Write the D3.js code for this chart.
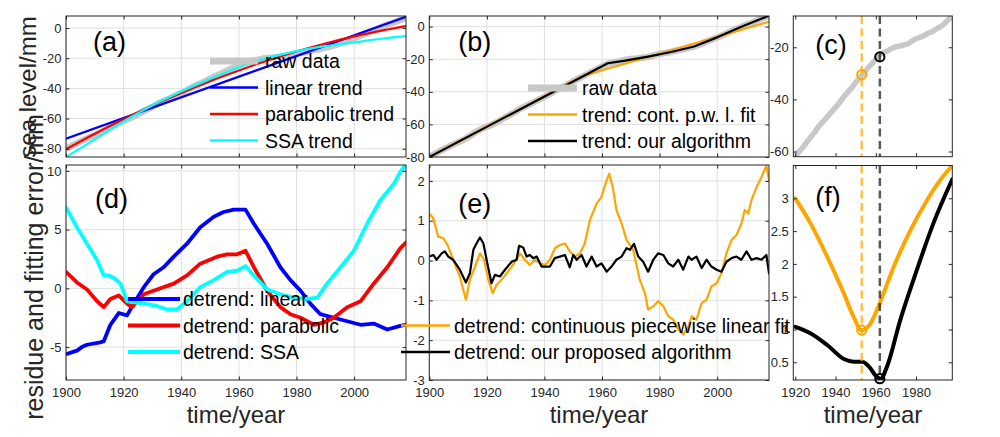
<!DOCTYPE html>
<html>
<head>
<meta charset="utf-8">
<script src="https://cdn.jsdelivr.net/npm/d3@7"></script>
<style>
  body { margin: 0; background: #fff; }
  svg { display: block; }
</style>
</head>
<body>
<svg id="chart"></svg>
<script>
// ---- data ----
const rawYears = d3.range(1900, 2019, 2);
const rawLevel = [-79.9, -78.1, -76.1, -74.3, -72.6, -70.9, -69.4, -67.3, -64.8, -62.8,
  -61.5, -60.0, -58.2, -56.1, -54.1, -52.2, -50.0, -48.4, -46.6, -44.8,
  -43.1, -41.2, -39.1, -37.3, -35.6, -33.5, -31.7, -30.0, -28.0, -26.4,
  -24.5, -22.8, -22.0, -21.3, -20.4, -19.8, -19.5, -19.1, -18.7, -17.6,
  -16.7, -16.2, -15.5, -14.6, -14.0, -13.0, -12.2, -11.0, -9.4, -8.1,
  -6.7, -5.2, -3.5, -1.9, -0.5, 1.1, 2.4, 3.9, 5.4, 6.4];

const linearYears = [1900, 2018];
const linearTrend = [-73.3, 7.5];
const trendYears = [1900, 1910, 1920, 1930, 1940, 1950, 1960, 1970, 1980, 1990, 2000, 2010, 2018];
const parabolicTrend = [-80.4, -70.1, -60.5, -51.4, -43.0, -35.2, -28.1, -21.5, -15.5, -10.2, -5.5, -1.5, 1.3];
const ssaTrend = [-85.5, -73.8, -62.0, -51.2, -42.0, -33.8, -26.0, -19.8, -15.3, -12.0, -9.5, -6.9, -5.3];

const pwlYears = [1900, 1953, 2018];
const pwlTrend = [-80, -30.5, 3];
const oursYears = [1900, 1962, 1968, 1976, 1984, 1992, 2000, 2008, 2018];
const oursTrend = [-80, -22.5, -20.9, -18.4, -15.6, -12.2, -6.6, -0.4, 6.7];

const detLinear = [[1900,-5.6],[1903.8,-5.3],[1905.5,-5.0],[1907.3,-4.8],[1911.9,-4.6],[1913.1,-4.5],[1915.4,-3.1],
  [1918.3,-2.1],[1921.2,-2.3],[1923.5,-1.3],[1927,0.1],[1930.4,1.2],[1933.9,1.8],[1937.4,2.7],[1942,3.8],
  [1946.6,5.2],[1951.3,6.1],[1954.7,6.5],[1958.2,6.7],[1962.3,6.7],[1965.2,5.5],[1969.8,3.8],[1974.4,1.8],
  [1977.9,0.7],[1981.4,-0.2],[1984.8,-1.3],[1988.3,-2.2],[1992.9,-2.5],[1997.6,-2.8],[2002.2,-3.1],
  [2006.8,-3.0],[2011.5,-3.5],[2016,-3.2],[2018,-3.1]];
const detParabolic = [[1900,1.4],[1903.8,0.5],[1907.3,-0.1],[1910.8,-1.1],[1913.1,-1.6],[1915.4,-0.9],
  [1918.3,-0.6],[1921.2,-1.3],[1922.9,-1.6],[1927,-0.5],[1931.6,-0.1],[1937.4,0.4],[1942,1.1],[1946.6,2.1],
  [1952.4,2.7],[1955.9,2.9],[1959.4,2.9],[1962.3,3.2],[1965.2,1.8],[1969.8,-0.2],[1974.4,-1.6],[1977.9,-2.2],
  [1981.4,-2.5],[1986,-3.1],[1989.5,-2.9],[1992.9,-2.5],[1997.6,-1.6],[2002.2,-1.1],[2006.8,0.4],
  [2011.5,1.8],[2016,3.4],[2018,3.9]];
const detSSA = [[1900,6.9],[1903.8,5.2],[1907.3,3.8],[1910.8,2.4],[1913.1,1.1],[1914.8,1.1],[1916.6,0.9],
  [1918.9,0.4],[1921.2,-1.1],[1927,-1.3],[1931.6,-1.5],[1935.1,-1.8],[1938.5,-1.8],[1942,-1.1],[1946.6,0.1],
  [1951.3,0.7],[1955.9,1.4],[1959.4,1.5],[1962.3,1.9],[1965.2,1.1],[1969.8,-0.1],[1974.4,-0.5],[1979,-0.8],
  [1983.7,-0.9],[1987.2,-0.8],[1990.6,0.4],[1995.3,1.8],[1999.9,3.2],[2004.5,5.5],[2009.1,7.5],
  [2013.8,8.9],[2016,9.9],[2018,10.6]];

const detPwl = [[1900,1.18],[1901.4,1.06],[1903.1,0.6],[1904.9,0.56],[1906.6,0.35],[1908.3,0.02],[1910.6,-0.4],
  [1912.7,-0.98],[1914.1,-0.48],[1915.9,-0.15],[1917.6,0.18],[1919,0.02],[1920.5,-0.48],[1922,-0.82],
  [1923.4,-0.61],[1925.1,-0.48],[1926.9,-0.32],[1928.6,-0.15],[1930.3,0.02],[1931.5,0.18],[1933.2,0.02],
  [1934.9,-0.11],[1936.7,0.02],[1938.4,-0.07],[1940.2,-0.11],[1941.9,0.02],[1943.6,0.31],[1945.4,0.39],
  [1947.1,0.43],[1948.8,0.23],[1950.6,0.1],[1952.3,0.18],[1954,0.43],[1955.8,1.02],[1958.1,1.43],
  [1959.8,1.6],[1961.6,2.02],[1962.5,2.18],[1963.7,1.85],[1965,1.27],[1966.8,0.93],[1968.5,0.52],
  [1970.8,0.27],[1973.1,-0.48],[1974.9,-0.82],[1976,-1.23],[1977.8,-1.15],[1979.5,-1.02],[1981.3,-1.15],
  [1983,-1.4],[1984.7,-1.48],[1986.5,-1.73],[1988.2,-1.86],[1990,-1.65],[1991.1,-1.4],[1992.8,-1.48],
  [1994.6,-1.07],[1996.3,-0.98],[1998,-0.65],[1999.8,-0.57],[2001.5,-0.32],[2003.2,0.18],[2005,0.52],
  [2006.7,0.64],[2008.4,0.93],[2009.6,1.27],[2010.8,1.18],[2011.9,1.52],[2013.7,1.85],[2015.4,2.1],
  [2017.1,2.39],[2018,2.02]];
const detOurs = [[1900,0.1],[1901.4,0.14],[1902.5,0.02],[1904.3,0.18],[1905.4,0.23],[1906.6,0.1],[1908.3,0.02],
  [1910.6,-0.23],[1912.7,-0.55],[1914.1,-0.32],[1915.3,0.27],[1916.4,0.43],[1917.6,0.58],[1918.8,0.43],
  [1919.9,0.02],[1921.6,-0.57],[1922.8,-0.36],[1924.5,-0.4],[1926.3,-0.23],[1928.6,-0.03],[1930.3,0.02],
  [1931.2,0.37],[1932.6,0.33],[1933.8,0.1],[1934.9,0.14],[1936.1,0.06],[1937.3,0.1],[1939,-0.15],
  [1940.7,-0.15],[1941.9,-0.15],[1943.6,0.06],[1945.4,0.1],[1947.1,0.14],[1948.8,-0.17],[1950,0.14],
  [1951.2,0.02],[1952.9,0.14],[1954.6,-0.15],[1956.4,0.1],[1958.1,-0.15],[1959.8,-0.07],[1961.6,-0.28],
  [1963.3,-0.15],[1965,0.02],[1966.8,0.1],[1968.5,0.31],[1969.7,0.27],[1971.1,0.42],[1972.6,0.1],
  [1974.3,-0.03],[1976,-0.28],[1977.8,0.02],[1979.5,0.18],[1981.3,0.14],[1983,-0.07],[1984.7,-0.15],
  [1986.5,0.02],[1988.2,-0.23],[1990,0.1],[1991.1,0.02],[1992.8,0.1],[1994.6,-0.19],[1996.3,0.02],
  [1998,-0.15],[1999.8,-0.23],[2001.5,-0.28],[2003.2,-0.03],[2005,0.06],[2006.7,0.1],[2008.4,0.02],
  [2010.2,0.23],[2011.9,0.02],[2013.7,0.06],[2015.4,0.02],[2017.1,0.14],[2018,-0.32]];

const errPwl = [[1920,3.0],[1927.7,2.61],[1936,2.1],[1944.1,1.55],[1949,1.19],[1952.8,0.99],[1957.3,1.09],
  [1962.2,1.42],[1968.8,1.95],[1977,2.5],[1985.2,2.96],[1991.8,3.27],[1998,3.5]];
const errOurs = [[1920,1.04],[1927.7,0.94],[1936,0.76],[1944.1,0.55],[1949,0.51],[1953.2,0.51],[1957.3,0.41],
  [1959.8,0.3],[1962.4,0.25],[1965.5,0.43],[1972.1,1.14],[1980.3,1.9],[1988.5,2.61],[1998,3.29]];

const breakPwl = { year: 1953, level: -30.5, err: 0.99 };
const breakOurs = { year: 1962, level: -23.7, err: 0.25 };

// ---- styling ----
const font = '"Liberation Sans", Arial, Helvetica, sans-serif';
const axisColor = '#262626';
const gridColor = '#dfdfdf';
const rawColor = '#c8c8c8';
const orange = '#ffa500';

const svg = d3.select('#chart').attr('width', 1000).attr('height', 437);
const defs = svg.append('defs');
let clipCount = 0;

function zip(xs, ys) {
  return xs.map((v, i) => [v, ys[i]]);
}

function makePanel(box, xDomain, yDomain, xTicks, yTicks, grid) {
  const x = d3.scaleLinear().domain(xDomain).range([box.x, box.x + box.w]);
  const y = d3.scaleLinear().domain(yDomain).range([box.y + box.h, box.y]);
  const g = svg.append('g');
  g.append('rect')
    .attr('x', box.x).attr('y', box.y).attr('width', box.w).attr('height', box.h)
    .attr('fill', '#fff');
  if (grid) {
    g.append('g').selectAll('line').data(xTicks).join('line')
      .attr('x1', (d) => x(d)).attr('x2', (d) => x(d))
      .attr('y1', box.y).attr('y2', box.y + box.h)
      .attr('stroke', gridColor).attr('stroke-width', 1);
    g.append('g').selectAll('line').data(yTicks).join('line')
      .attr('y1', (d) => y(d)).attr('y2', (d) => y(d))
      .attr('x1', box.x).attr('x2', box.x + box.w)
      .attr('stroke', gridColor).attr('stroke-width', 1);
  }
  const id = 'clip' + clipCount++;
  defs.append('clipPath').attr('id', id).append('rect')
    .attr('x', box.x).attr('y', box.y).attr('width', box.w).attr('height', box.h);
  const plot = g.append('g').attr('clip-path', `url(#${id})`);
  return { box, x, y, g, plot, xTicks, yTicks };
}

function addLine(p, data, color, width, curve) {
  const line = d3.line()
    .x((d) => p.x(d[0]))
    .y((d) => p.y(d[1]))
    .curve(curve || d3.curveLinear);
  p.plot.append('path')
    .datum(data)
    .attr('d', line)
    .attr('fill', 'none')
    .attr('stroke', color)
    .attr('stroke-width', width)
    .attr('stroke-linejoin', 'round')
    .attr('stroke-linecap', 'round');
}

function styleAxis(sel) {
  sel.select('.domain').remove();
  sel.attr('font-size', 13).attr('font-family', font).attr('color', axisColor);
}

function addAxes(p, showX) {
  const { box, x, y, g } = p;
  const fmt = (d) => String(d);
  const bottom = g.append('g').attr('transform', `translate(0,${box.y + box.h})`)
    .call(d3.axisBottom(x).tickValues(p.xTicks).tickSizeInner(-3.5).tickSizeOuter(0)
      .tickPadding(8).tickFormat(showX ? fmt : () => ''));
  styleAxis(bottom);
  const top = g.append('g').attr('transform', `translate(0,${box.y})`)
    .call(d3.axisTop(x).tickValues(p.xTicks).tickSizeInner(-3.5).tickSizeOuter(0).tickFormat(() => ''));
  styleAxis(top);
  const left = g.append('g').attr('transform', `translate(${box.x},0)`)
    .call(d3.axisLeft(y).tickValues(p.yTicks).tickSizeInner(-3.5).tickSizeOuter(0)
      .tickPadding(4.5).tickFormat(fmt));
  styleAxis(left);
  const right = g.append('g').attr('transform', `translate(${box.x + box.w},0)`)
    .call(d3.axisRight(y).tickValues(p.yTicks).tickSizeInner(-3.5).tickSizeOuter(0).tickFormat(() => ''));
  styleAxis(right);
  g.append('rect')
    .attr('x', box.x).attr('y', box.y).attr('width', box.w).attr('height', box.h)
    .attr('fill', 'none').attr('stroke', axisColor).attr('stroke-width', 1);
}

function addTag(p, text, dx, dy) {
  p.g.append('text')
    .attr('x', p.box.x + dx).attr('y', p.box.y + dy)
    .attr('font-family', font).attr('font-size', 27).attr('fill', '#000')
    .text(text);
}

function addLegend(parent, items, x0, x1, tx, rows) {
  const lg = parent.append('g');
  items.forEach((it, i) => {
    lg.append('line')
      .attr('x1', x0).attr('x2', x1).attr('y1', rows[i]).attr('y2', rows[i])
      .attr('stroke', it.color).attr('stroke-width', it.width);
    lg.append('text')
      .attr('x', tx).attr('y', rows[i]).attr('dy', '0.36em')
      .attr('font-family', font).attr('font-size', 19.5).attr('fill', '#000')
      .text(it.label);
  });
  return lg;
}

function addBreak(p, year, dashColor) {
  p.plot.append('line')
    .attr('x1', p.x(year)).attr('x2', p.x(year))
    .attr('y1', p.box.y).attr('y2', p.box.y + p.box.h)
    .attr('stroke', dashColor).attr('stroke-width', 2.5)
    .attr('stroke-dasharray', '8,4.5');
}

function addMarker(p, year, value, color) {
  p.g.append('circle')
    .attr('cx', p.x(year)).attr('cy', p.y(value)).attr('r', 4.6)
    .attr('fill', 'none').attr('stroke', color).attr('stroke-width', 2);
}

const yearTicks = [1900, 1920, 1940, 1960, 1980, 2000];
const zoomTicks = [1920, 1940, 1960, 1980];
const raw = zip(rawYears, rawLevel);

// (a) trends
const pa = makePanel({ x: 66, y: 16, w: 340, h: 141 }, [1900, 2018], [-85.5, 8],
  yearTicks, [-80, -60, -40, -20, 0], true);
addLine(pa, raw, rawColor, 6.5);
addLine(pa, zip(linearYears, linearTrend), '#0000ff', 2.2);
addLine(pa, zip(trendYears, parabolicTrend), '#ff0000', 2.2, d3.curveMonotoneX);
addLine(pa, zip(trendYears, ssaTrend), '#00ffff', 2.2, d3.curveMonotoneX);
addAxes(pa, false);
addTag(pa, '(a)', 27, 35);
addLegend(svg, [
  { label: 'raw data', color: rawColor, width: 7 },
  { label: 'linear trend', color: '#0000ff', width: 2.5 },
  { label: 'parabolic trend', color: '#ff0000', width: 2.5 },
  { label: 'SSA trend', color: '#00ffff', width: 2.5 }
], 210, 258, 265, [61, 87.5, 114, 140.5]);

// (b) piecewise trends
const pb = makePanel({ x: 429.3, y: 16, w: 339.7, h: 141 }, [1900, 2018], [-80, 6.5],
  yearTicks, [-80, -60, -40, -20, 0], true);
addLine(pb, raw, rawColor, 6.5);
addLine(pb, zip(pwlYears, pwlTrend), orange, 2.2);
addLine(pb, zip(oursYears, oursTrend), '#000', 2.2);
addAxes(pb, false);
addTag(pb, '(b)', 29, 35);
addLegend(svg, [
  { label: 'raw data', color: rawColor, width: 7 },
  { label: 'trend: cont. p.w. l. fit', color: orange, width: 2.5 },
  { label: 'trend: our algorithm', color: '#000', width: 2.5 }
], 528, 577, 582, [88, 114.5, 141]);

// (c) zoom on the break
const pc = makePanel({ x: 793.3, y: 16, w: 159, h: 140.7 }, [1919, 1998], [-62, -8],
  zoomTicks, [-60, -40, -20], false);
addLine(pc, raw, rawColor, 5.5);
addBreak(pc, breakPwl.year, 'rgba(255,165,0,0.7)');
addBreak(pc, breakOurs.year, 'rgba(0,0,0,0.65)');
addAxes(pc, false);
addMarker(pc, breakPwl.year, breakPwl.level, orange);
addMarker(pc, breakOurs.year, breakOurs.level, '#000');
addTag(pc, '(c)', 22, 38);

// (d) residues of smooth trends
const pd = makePanel({ x: 66, y: 165, w: 340, h: 215 }, [1900, 2018], [-7.8, 10.5],
  yearTicks, [-5, 0, 5, 10], true);
addLine(pd, detLinear, '#0000ff', 3.8);
addLine(pd, detParabolic, '#ff0000', 3.8);
addLine(pd, detSSA, '#00ffff', 3.8);
addAxes(pd, true);
addTag(pd, '(d)', 29, 43);
addLegend(svg, [
  { label: 'detrend: linear', color: '#0000ff', width: 4 },
  { label: 'detrend: parabolic', color: '#ff0000', width: 4 },
  { label: 'detrend: SSA', color: '#00ffff', width: 4 }
], 128, 180, 183, [299, 325.5, 352]);

// (e) residues of piecewise trends
const pe = makePanel({ x: 429.3, y: 165, w: 339.7, h: 215 }, [1900, 2018], [-3, 2.4],
  yearTicks, [-3, -2, -1, 0, 1, 2], true);
addLine(pe, detPwl, orange, 2.2);
addLine(pe, detOurs, '#000', 2.2);
addAxes(pe, true);
addTag(pe, '(e)', 29, 48);

// (f) fitting error vs break year
const pf = makePanel({ x: 793.3, y: 165.5, w: 159, h: 214.5 }, [1919, 1998], [0.23, 3.5],
  zoomTicks, [0.5, 1, 1.5, 2, 2.5, 3], false);
addLine(pf, errPwl, orange, 4, d3.curveMonotoneX);
addLine(pf, errOurs, '#000', 4, d3.curveMonotoneX);
addBreak(pf, breakPwl.year, 'rgba(255,165,0,0.7)');
addBreak(pf, breakOurs.year, 'rgba(0,0,0,0.65)');
addAxes(pf, true);
addMarker(pf, breakPwl.year, breakPwl.err, orange);
addMarker(pf, breakOurs.year, breakOurs.err, '#000');
addTag(pf, '(f)', 22, 40);

// legend of (e) runs under panel (f)
defs.append('clipPath').attr('id', 'legend-e-clip').append('rect')
  .attr('x', 0).attr('y', 0).attr('width', 793.3).attr('height', 437);
addLegend(svg, [
  { label: 'detrend: continuous piecewise linear fit', color: orange, width: 2.5 },
  { label: 'detrend: our proposed algorithm', color: '#000', width: 2.5 }
], 401, 450, 454, [325.5, 352]).attr('clip-path', 'url(#legend-e-clip)');

// axis titles
function axisTitle(x, y, text, size, rotate) {
  svg.append('text')
    .attr('transform', `translate(${x},${y})` + (rotate ? ' rotate(-90)' : ''))
    .attr('text-anchor', 'middle')
    .attr('font-family', font).attr('font-size', size).attr('fill', axisColor)
    .text(text);
}
axisTitle(36, 87, 'sea level/mm', 24, true);
axisTitle(43, 267, 'residue and fitting error/mm', 25, true);
axisTitle(236, 423, 'time/year', 24, false);
axisTitle(599, 423, 'time/year', 24, false);
axisTitle(873, 423, 'time/year', 24, false);
</script>
</body>
</html>
